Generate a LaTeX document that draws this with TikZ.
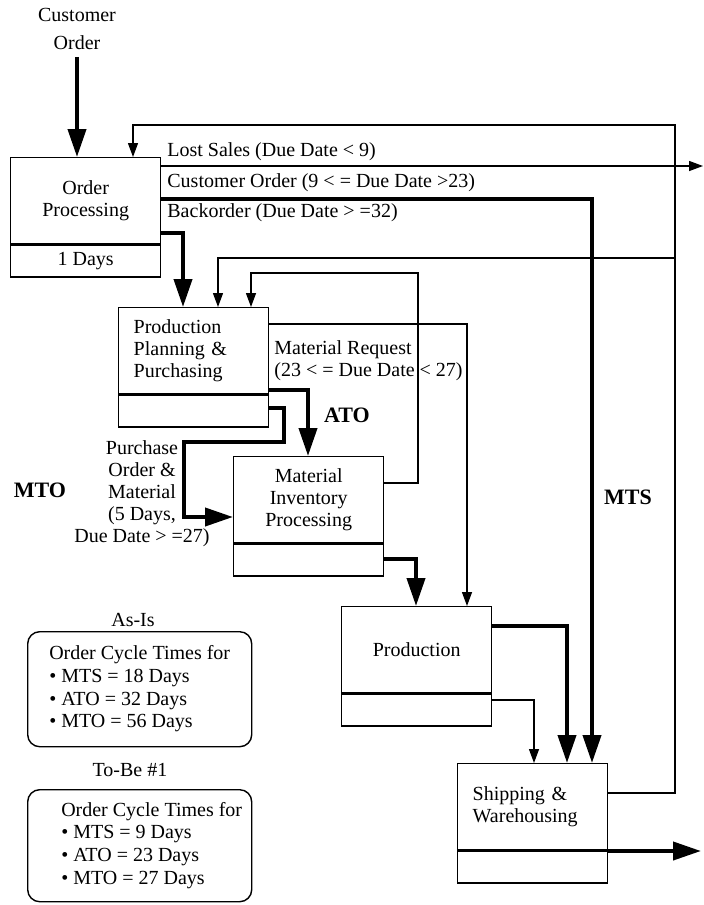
\documentclass[tikz,border=0pt]{standalone}
\usepackage{fontspec}
\setmainfont{Liberation Serif}
\usetikzlibrary{arrows.meta,positioning}

\begin{document}
\begin{tikzpicture}[x=0.5pt, y=-0.5pt,
      font=\fontsize{10}{11}\selectfont,
      box/.style={draw,line width=0.7pt,minimum width=75pt,minimum height=43pt,
                  inner sep=0pt,align=center,anchor=north west},
      boxl/.style={box,text width=60pt,inner xsep=7.5pt,align=left},
      sub/.style={draw,line width=0.7pt,minimum width=75pt,minimum height=16pt,
                  inner sep=0pt,anchor=north},
      lbl/.style={anchor=west,inner sep=1pt,align=left},
      note/.style={draw,line width=0.7pt,rounded corners=6pt,anchor=north west,
                   minimum width=112pt,inner xsep=0pt,
                   font=\fontsize{10}{11.3}\selectfont},
      tag/.style={font=\fontsize{11}{13}\selectfont\bfseries},
      thk/.style={-{Triangle[length=14pt,width=9pt]},line width=2pt},
      thn/.style={-{Triangle[length=7pt,width=5pt]},line width=0.65pt}]
    \useasboundingbox (0,0) rectangle (704,905);

    \node[box] (op) at (10,157) {Order\\Processing};
    \node[sub] (opd) at (op.south) {1 Days};
    \node[boxl] (pp) at (118,307) {Production\\Planning \&\\Purchasing};
    \node[sub] (ppd) at (pp.south) {};
    \node[box] (mi) at (233,456) {Material\\Inventory\\Processing};
    \node[sub] (mid) at (mi.south) {};
    \node[box] (pd) at (341,606) {Production};
    \node[sub] (pdd) at (pd.south) {};
    \node[boxl] (sw) at (457,763) {Shipping \&\\Warehousing};
    \node[sub] (swd) at (sw.south) {};

    \node[align=center] (co) at (77,29) {Customer\\[3pt]Order};
    \node[lbl] (ls) at (165,152) {Lost Sales (Due Date < 9)};
    \node[lbl] (cot) at (165,183) {Customer Order (9 < = Due Date >23)};
    \node[lbl] (bo) at (165,213) {Backorder (Due Date > =32)};
    \node[lbl] (mr) at (272,361) {Material Request\\(23 < = Due Date < 27)};
    \node[align=center] (po) at (142,494) {Purchase\\Order \&\\Material\\(5 Days,\\Due Date > =27)};
    \node[tag] (ato) at (347,415) {ATO};
    \node[tag] (mto) at (40,490) {MTO};
    \node[tag] (mts) at (628,497) {MTS};

    \node (asl) at (133,620) {As-Is};
    \node[note,minimum height=57.5pt] (asis) at (27,631)
       {\begin{tabular}{@{}l@{}}Order Cycle Times for\\ \textbullet\ MTS = 18 Days\\
        \textbullet\ ATO = 32 Days\\ \textbullet\ MTO = 56 Days\end{tabular}};
    \node (tbl) at (130,770) {To-Be \#1};
    \node[note,minimum height=56pt] (tobe) at (27,789)
       {\begin{tabular}{@{\hspace{12pt}}l@{}}Order Cycle Times for\\ \textbullet\ MTS = 9 Days\\
        \textbullet\ ATO = 23 Days\\ \textbullet\ MTO = 27 Days\end{tabular}};

    \coordinate (fb) at (675,125);
    \coordinate (lost) at (703,166);
    \coordinate (out) at (701,851);

    \draw[thk] (co) -- (op.north -| co);
    \draw[thn] (sw.east |- 0,793) -| (fb) -| (op.north -| 133,0);
    \draw[thn] (fb |- 0,258) -| (pp.north -| 218,0);
    \draw[thn] (op.east |- 0,166) -- (lost);
    \draw[thk] (op.east |- 0,199) -| (sw.north -| 592,0);
    \draw[thk] (op.east |- 0,233) -| (pp.north -| 183,0);
    \draw[thn] (pp.east |- 0,324) -| (pd.north -| 467,0);
    \draw[thk] (pp.east |- 0,390) -| (mi.north -| 308,0);
    \draw[thk] (pp.east |- 0,408) -| (284,442) -| (184,517) -- (mi.west |- 0,517);
    \draw[thn] (mi.east |- 0,483) -| (418,273) -| (pp.north -| 251,0);
    \draw[thk] (mi.east |- 0,559) -| (pd.north -| 416,0);
    \draw[thk] (pd.east |- 0,626) -| (sw.north -| 567,0);
    \draw[thn] (pd.east |- 0,700) -| (sw.north -| 534,0);
    \draw[thk] (sw.east |- 0,851) -- (out);
  \end{tikzpicture}
\end{document}
